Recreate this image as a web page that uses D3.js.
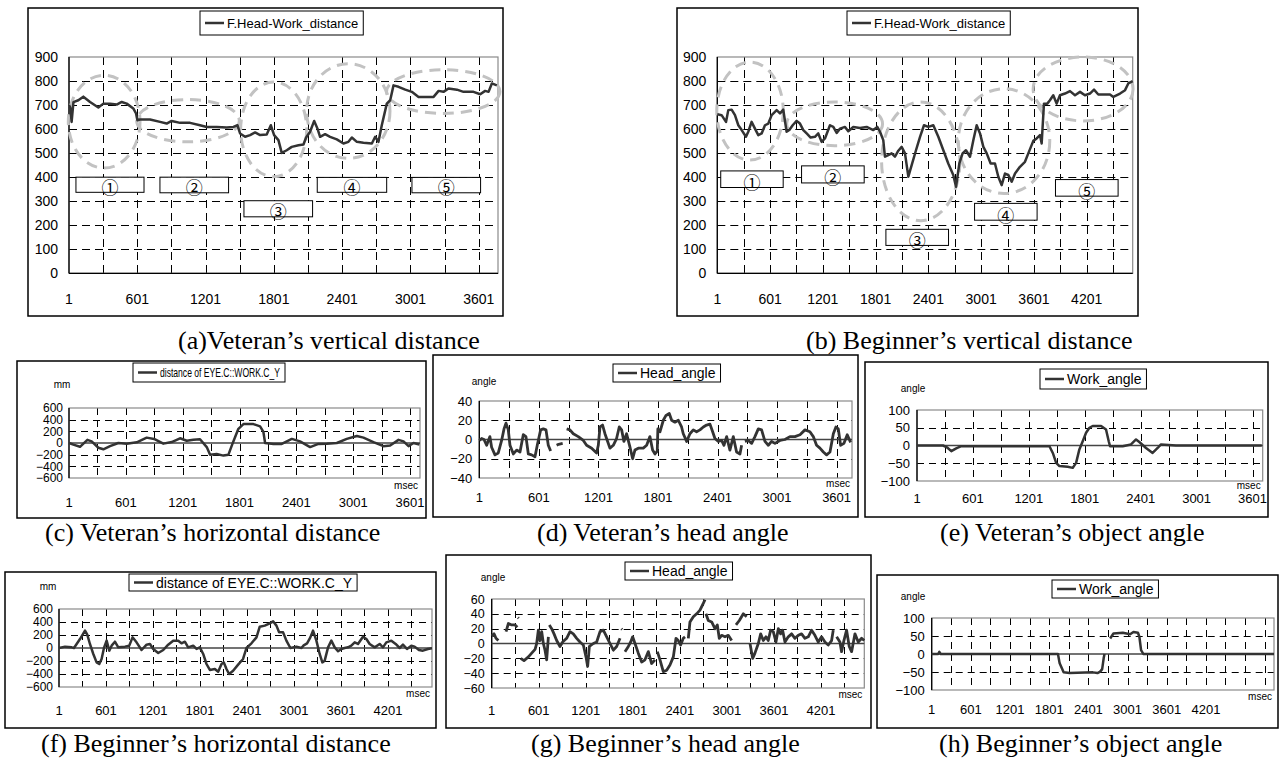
<!DOCTYPE html>
<html><head><meta charset="utf-8">
<script src="https://cdn.jsdelivr.net/npm/d3@7"></script>
<style>body{margin:0;background:#fff}svg{display:block}</style>
</head><body>
<svg id="c" width="1282" height="760"></svg>
<script>
// ---------- tick labels ----------
const xTicksVet = [1,601,1201,1801,2401,3001,3601];
const xTicksBeg = [1,601,1201,1801,2401,3001,3601,4201];
const yTicksVertical = [0,100,200,300,400,500,600,700,800,900];
const yTicksHoriz = [-600,-400,-200,0,200,400,600];
const yTicksHeadVet = [-40,-20,0,20,40];
const yTicksHeadBeg = [-60,-40,-20,0,20,40,60];
const yTicksWork = [-100,-50,0,50,100];

// ---------- series ([msec, value], null = gap) ----------
const vetVertical = [[1,700],[12,690],[24,630],[40,712],[83,720],[127,735],[186,713],[259,690],[303,706],[361,706],[420,702],[464,713],[508,706],[566,686],[590,665],[602,637],[625,640],[713,640],[801,630],[859,623],[903,634],[977,626],[1065,626],[1152,616],[1211,609],[1299,609],[1387,607],[1446,609],[1481,616],[1504,582],[1548,568],[1592,575],[1636,586],[1680,575],[1738,578],[1774,616],[1803,575],[1841,554],[1870,501],[1914,512],[1958,526],[2017,533],[2061,536],[2084,565],[2119,589],[2155,634],[2184,602],[2207,568],[2251,579],[2295,568],[2354,557],[2412,540],[2456,547],[2486,565],[2530,547],[2588,543],[2662,540],[2691,568],[2720,547],[2749,616],[2793,706],[2823,720],[2852,782],[2896,776],[2955,764],[3013,755],[3072,734],[3145,734],[3204,734],[3248,759],[3291,755],[3335,769],[3409,764],[3467,755],[3555,755],[3614,745],[3657,759],[3687,755],[3716,790],[3760,782]];

const begVertical = [[1,662],[50,658],[100,630],[126,679],[164,681],[202,658],[240,616],[278,596],[327,568],[353,589],[391,630],[429,602],[467,575],[505,582],[543,616],[581,623],[619,658],[676,679],[714,665],[751,681],[789,589],[820,596],[858,616],[903,634],[941,623],[979,596],[1017,582],[1062,565],[1111,568],[1149,582],[1187,547],[1225,561],[1282,616],[1320,609],[1358,584],[1396,602],[1453,609],[1490,591],[1547,609],[1623,605],[1699,609],[1775,596],[1820,609],[1851,589],[1888,554],[1907,485],[1945,492],[1983,499],[2021,485],[2059,510],[2097,526],[2135,499],[2173,402],[2211,450],[2260,512],[2306,568],[2351,616],[2400,609],[2457,616],[2514,568],[2571,512],[2627,457],[2684,409],[2715,360],[2753,457],[2790,499],[2828,512],[2874,485],[2912,554],[2950,616],[2988,582],[3026,526],[3064,499],[3109,457],[3158,457],[3196,402],[3234,367],[3272,415],[3310,409],[3348,381],[3386,415],[3442,443],[3499,464],[3537,499],[3594,551],[3632,561],[3670,575],[3689,540],[3715,706],[3753,706],[3783,720],[3821,741],[3859,706],[3897,741],[3954,748],[4011,758],[4068,741],[4125,755],[4181,741],[4238,748],[4284,764],[4333,744],[4409,744],[4466,744],[4504,734],[4580,748],[4637,762],[4674,790],[4724,800]];

const vetHorizontal = [[1,0],[47,-27],[117,-65],[195,54],[240,27],[311,-81],[364,-108],[434,-54],[522,0],[610,-11],[716,11],[821,92],[899,70],[997,-11],[1085,16],[1173,81],[1244,38],[1314,54],[1384,65],[1455,-70],[1490,-200],[1560,-189],[1631,-216],[1684,-200],[1736,27],[1789,243],[1842,324],[1948,324],[2018,286],[2053,189],[2071,0],[2159,-16],[2247,-16],[2353,70],[2440,27],[2546,-70],[2634,-16],[2722,-11],[2828,0],[2933,70],[3039,119],[3109,92],[3215,16],[3320,-54],[3391,-43],[3479,54],[3532,27],[3585,-54],[3637,0],[3700,-27]];

const vetHeadAngle = [[1,-1],[25,1],[48,0],[75,-6],[108,3],[125,-8],[159,-16],[192,-14],[226,-1],[250,11],[270,17],[293,10],[310,-6],[344,-15],[377,-11],[411,-13],[444,5],[471,3],[495,-15],[528,-16],[562,-18],[585,-6],[619,10],[646,11],[673,10],[696,-6],[720,-12],[740,null],[780,-6],[800,-5],[841,-4],[860,null],[881,11],[914,10],[948,6],[998,3],[1049,-1],[1082,-6],[1133,-9],[1183,-14],[1200,-6],[1217,13],[1243,15],[1267,6],[1294,-2],[1317,-9],[1351,-6],[1384,1],[1411,13],[1435,10],[1458,-2],[1485,6],[1519,-8],[1546,-20],[1569,-11],[1603,-9],[1653,-9],[1687,-6],[1720,3],[1747,-11],[1771,-15],[1794,-12],[1800,11],[1821,8],[1855,20],[1882,25],[1915,27],[1939,20],[1972,18],[2006,20],[2039,13],[2056,6],[2090,-2],[2123,6],[2157,10],[2190,8],[2224,10],[2258,13],[2291,15],[2325,16],[2352,8],[2375,1],[2409,-2],[2442,-1],[2466,-6],[2493,3],[2526,-11],[2560,3],[2593,-13],[2627,-15],[2644,-6],[2660,null],[2677,-2],[2711,-1],[2745,-4],[2778,3],[2812,11],[2845,10],[2879,-2],[2913,-6],[2946,-2],[2980,-4],[3030,-1],[3080,0],[3131,3],[3181,3],[3232,5],[3282,10],[3332,8],[3366,3],[3399,-6],[3433,-9],[3467,-13],[3500,-16],[3534,-13],[3568,6],[3594,13],[3618,11],[3641,-6],[3675,-4],[3708,5],[3742,-3]];

const vetWorkAngle = [[1,0],[280,0],[322,-5],[369,-16],[422,-8],[476,-2],[815,-2],[1422,-2],[1458,-21],[1494,-49],[1529,-58],[1618,-60],[1672,-63],[1708,-49],[1743,-11],[1779,12],[1815,36],[1851,50],[1886,55],[1976,55],[2029,45],[2058,12],[2072,-2],[2208,-2],[2297,3],[2351,17],[2386,10],[2458,-7],[2529,-21],[2583,-7],[2619,3],[2779,0],[3700,0]];

const begHorizontal = [[1,0],[78,21],[163,10],[192,0],[269,138],[333,267],[362,205],[396,62],[439,-92],[481,-221],[515,-246],[545,-169],[575,0],[609,113],[643,-41],[673,36],[715,97],[758,10],[843,21],[898,36],[940,164],[991,87],[1055,-31],[1119,51],[1162,62],[1204,-15],[1268,-77],[1332,-31],[1395,51],[1459,113],[1523,113],[1565,72],[1608,97],[1650,10],[1714,36],[1757,-15],[1799,10],[1842,-92],[1884,-246],[1927,-338],[1991,-323],[2033,-364],[2076,-246],[2105,-221],[2139,-323],[2173,-400],[2224,-349],[2288,-256],[2351,-169],[2394,0],[2458,72],[2522,164],[2564,328],[2628,344],[2692,379],[2734,410],[2777,344],[2811,241],[2862,241],[2904,113],[2955,0],[3032,21],[3096,0],[3125,41],[3168,72],[3210,164],[3244,267],[3287,113],[3329,-92],[3363,-221],[3393,-195],[3436,10],[3478,113],[3521,10],[3563,-51],[3606,-15],[3648,0],[3691,10],[3733,36],[3776,87],[3818,62],[3882,174],[3925,138],[3967,62],[4031,10],[4095,62],[4137,10],[4180,87],[4244,113],[4299,62],[4350,0],[4392,51],[4443,-15],[4499,36],[4541,21],[4596,-31],[4647,-41],[4711,-15],[4762,-5]];

const begHeadAngle = [[1,10],[31,13],[56,7],[86,4],[120,null],[184,16],[214,27],[256,25],[299,25],[328,22],[332,null],[336,35],[346,34],[355,null],[371,-20],[413,-23],[469,-18],[511,-13],[554,-8],[575,0],[596,18],[617,4],[639,16],[660,0],[681,-9],[702,-22],[724,9],[730,null],[736,25],[766,20],[796,13],[830,4],[872,-4],[906,2],[957,7],[1000,16],[1042,13],[1085,7],[1127,2],[1170,-2],[1204,-18],[1225,-31],[1247,-4],[1298,0],[1340,2],[1383,16],[1425,18],[1468,9],[1510,0],[1553,-9],[1595,-4],[1638,7],[1646,null],[1655,20],[1665,19],[1680,null],[1701,-11],[1744,-4],[1774,2],[1799,9],[1829,0],[1871,-13],[1914,-25],[1956,-22],[1999,-11],[2041,-27],[2084,-22],[2095,null],[2114,-11],[2148,-22],[2190,-38],[2233,-36],[2275,-29],[2318,-18],[2352,7],[2381,4],[2411,-2],[2445,7],[2467,9],[2480,null],[2509,7],[2530,29],[2573,36],[2615,40],[2658,45],[2700,54],[2722,59],[2728,null],[2734,40],[2764,31],[2807,29],[2849,20],[2879,25],[2904,7],[2934,11],[2977,9],[3019,11],[3062,4],[3080,null],[3117,25],[3160,31],[3211,40],[3253,36],[3270,null],[3296,0],[3330,-20],[3359,-13],[3402,0],[3432,13],[3466,4],[3500,9],[3529,4],[3559,18],[3593,16],[3627,2],[3657,20],[3687,13],[3712,18],[3742,2],[3784,9],[3827,13],[3869,7],[3912,11],[3954,13],[3997,7],[4039,9],[4082,18],[4124,11],[4167,2],[4209,9],[4252,2],[4294,-2],[4337,4],[4358,18],[4380,null],[4401,9],[4443,2],[4464,-11],[4494,4],[4528,18],[4562,-4],[4592,-11],[4635,13],[4677,2],[4720,7],[4754,4]];

const begWorkAngle = [[1,0],[100,0],[118,6],[140,0],[1935,0],[1961,-26],[2022,-51],[2113,-53],[2470,-51],[2540,-53],[2582,-49],[2612,-42],[2635,-12],[2648,0],[2660,null],[2734,43],[2785,57],[2928,59],[3040,55],[3091,61],[3160,59],[3182,48],[3208,11],[3243,0],[5244,0]];

// ---------- annotations (data units) ----------
const phaseLabels = ["①","②","③","④","⑤"];
// [x0, x1, yTop, yBottom]
const vetBoxes = [[62,660,400,337],[800,1403,400,335],[1538,2141,302,235],[2182,2792,399,337],[3014,3617,399,335]];
const begBoxes = [[40,750,426,357],[959,1671,447,376],[1918,2630,183,116],[2926,3637,291,221],[3846,4558,390,321]];
// [cx, cy, rx, ry]
const vetEllipses = [[310,631,315,193],[1046,635,451,88],[1799,599,290,197],[2455,675,366,197],[3289,756,498,91]];
const begEllipses = [[373,675,378,204],[1335,622,545,91],[2314,466,445,247],[3261,550,520,218],[4160,767,568,133]];

// ---------- titles ----------
const captions = ["(a)Veteran\u2019s vertical distance","(b) Beginner\u2019s vertical distance","(c) Veteran\u2019s horizontal distance","(d) Veteran\u2019s head angle","(e) Veteran\u2019s object angle","(f) Beginner\u2019s horizontal distance","(g) Beginner\u2019s head angle","(h) Beginner\u2019s object angle"];
const legendVertical = "F.Head-Work_distance";
const legendHoriz = "distance of EYE.C::WORK.C_Y";
const legendHead = "Head_angle";
const legendWork = "Work_angle";

// ---------- drawing ----------
const svg = d3.select("#c");
const SANS = "'Liberation Sans', Arial, sans-serif";
const SERIF = "'Liberation Serif', 'Times New Roman', serif";

function drawPanel(cfg) {
  const [fx0,fy0,fx1,fy1] = cfg.frame;
  const [px0,py0,px1,py1] = cfg.plot;
  const g = svg.append("g");
  g.append("rect").attr("x",fx0).attr("y",fy0).attr("width",fx1-fx0).attr("height",fy1-fy0)
    .attr("fill","#fff").attr("stroke","#000").attr("stroke-width",1.5);
  const x = d3.scaleLinear().domain([1,cfg.xMax]).range([px0,px1]);
  const yExt = d3.extent(cfg.yTicks);
  const y = d3.scaleLinear().domain(yExt).range([py1,py0]);

  // vertical dashed grid every 300
  g.append("g").selectAll("line").data(d3.range(301, cfg.xMax, 300)).join("line")
    .attr("x1",d=>Math.round(x(d))+0.5).attr("x2",d=>Math.round(x(d))+0.5)
    .attr("y1",py0).attr("y2",py1)
    .attr("stroke","#000").attr("stroke-width",1).attr("stroke-dasharray",cfg.dash);
  // horizontal dashed grid
  const hg = cfg.yTicks.filter(v => v!==yExt[0] && v!==yExt[1] && (cfg.big || v!==0));
  g.append("g").selectAll("line").data(hg).join("line")
    .attr("x1",px0).attr("x2",px1)
    .attr("y1",d=>Math.round(y(d))+0.5).attr("y2",d=>Math.round(y(d))+0.5)
    .attr("stroke","#000").attr("stroke-width",1).attr("stroke-dasharray",cfg.dash);
  // plot border
  g.append("rect").attr("x",px0).attr("y",py0).attr("width",px1-px0).attr("height",py1-py0)
    .attr("fill","none").attr("stroke","#8a8a8a").attr("stroke-width",1.2);
  // axes
  g.append("line").attr("x1",px0).attr("x2",px0).attr("y1",py0).attr("y2",py1).attr("stroke","#000").attr("stroke-width",1.3);
  const axisY = cfg.big ? y(yExt[0]) : y(0);
  g.append("line").attr("x1",px0).attr("x2",px1).attr("y1",axisY).attr("y2",axisY)
    .attr("stroke", cfg.big ? "#000" : "#444").attr("stroke-width",1.3);

  // annotations: ellipses
  if (cfg.ellipses) {
    g.append("g").selectAll("ellipse").data(cfg.ellipses).join("ellipse")
      .attr("cx",d=>x(d[0])).attr("cy",d=>y(d[1]))
      .attr("rx",d=>x(d[0]+d[2])-x(d[0])).attr("ry",d=>y(d[1]-d[3])-y(d[1]))
      .attr("fill","none").attr("stroke","#c2c2c2").attr("stroke-width",3).attr("stroke-dasharray","11,7");
  }

  // series
  const line = d3.line().defined(d=>d[1]!==null).x(d=>x(d[0])).y(d=>y(d[1]));
  g.append("path").datum(cfg.series).attr("d",line).attr("fill","none")
    .attr("stroke","#333").attr("stroke-width",cfg.lw).attr("stroke-linejoin","round");

  // boxes
  if (cfg.boxes) {
    const bg = g.append("g").selectAll("g").data(cfg.boxes).join("g");
    bg.append("rect").attr("x",d=>x(d[0])).attr("y",d=>y(d[2]))
      .attr("width",d=>x(d[1])-x(d[0])).attr("height",d=>y(d[3])-y(d[2]))
      .attr("fill","#fff").attr("stroke","#000").attr("stroke-width",1);
    bg.append("text").attr("x",d=>(x(d[0])+x(d[1]))/2).attr("y",d=>y(d[3])-6)
      .attr("text-anchor","middle").attr("dominant-baseline","central")
      .attr("font-family","'Noto Sans CJK JP', 'DejaVu Sans', sans-serif").attr("font-size",17)
      .text((d,i)=>phaseLabels[i]);
  }

  // tick labels
  g.append("g").selectAll("text").data(cfg.yTicks).join("text")
    .attr("x",px0-cfg.ylGap).attr("y",d=>y(d)).attr("dy","0.36em").attr("text-anchor","end")
    .attr("font-family",SANS).attr("font-size",cfg.yfs)
    .text(d => d<0 ? "\u2212"+Math.abs(d) : d);
  g.append("g").selectAll("text").data(cfg.xTicks).join("text")
    .attr("x",d=>x(d)).attr("y",cfg.xlY).attr("text-anchor","middle")
    .attr("font-family",SANS).attr("font-size",cfg.fs).text(d=>d);

  if (cfg.unit) {
    g.append("text").attr("x",cfg.unit[1]).attr("y",cfg.unit[2]).attr("text-anchor","middle")
      .attr("font-family",SANS).attr("font-size",10).text(cfg.unit[0]);
    g.append("text").attr("x",px1-2).attr("y",cfg.msecY).attr("text-anchor","end")
      .attr("font-family",SANS).attr("font-size",10).text("msec");
  }

  // legend
  const [lx,ly,lh,lfs,lw] = cfg.legendPos;
  const lg = g.append("g");
  const r = lg.append("rect").attr("x",lx).attr("y",ly).attr("height",lh).attr("fill","#fff").attr("stroke","#000").attr("stroke-width",1);
  lg.append("line").attr("x1",lx+5).attr("x2",lx+24).attr("y1",ly+lh/2).attr("y2",ly+lh/2).attr("stroke","#333").attr("stroke-width",2.5);
  const t = lg.append("text").attr("x",lx+27).attr("y",ly+lh/2).attr("dy","0.36em")
    .attr("font-family",SANS).attr("font-size",lfs).text(cfg.legend);
  if (lw) t.attr("textLength", lw).attr("lengthAdjust","spacingAndGlyphs");
  r.attr("width", 27 + (lw || t.node().getComputedTextLength()) + 5);

  // caption
  svg.append("text").attr("x",cfg.cap[1]).attr("y",cfg.cap[2]).attr("font-family",SERIF)
    .attr("font-size",26).text(cfg.cap[0]);
}

const panels = [
  {frame:[28,8,503,316], plot:[69,57,498,273.3], xMax:3770, yTicks:yTicksVertical, xTicks:xTicksVet, series:vetVertical,
   big:true, dash:"8,5", lw:2.5, fs:14, yfs:14, ylGap:11, xlY:304, ellipses:vetEllipses, boxes:vetBoxes,
   legend:legendVertical, legendPos:[200,11,24,13], cap:[captions[0],178,349]},
  {frame:[677,8,1138,316], plot:[717.3,57,1132.7,273.3], xMax:4724, yTicks:yTicksVertical, xTicks:xTicksBeg, series:begVertical,
   big:true, dash:"8,5", lw:2.5, fs:14, yfs:14, ylGap:11, xlY:304, ellipses:begEllipses, boxes:begBoxes,
   legend:legendVertical, legendPos:[847,11,24,13], cap:[captions[1],806,349]},
  {frame:[17,361,426,518], plot:[69,408,420,478], xMax:3706, yTicks:yTicksHoriz, xTicks:xTicksVet, series:vetHorizontal,
   big:false, dash:"7,5", lw:2.5, fs:13, yfs:12, ylGap:6, xlY:507, unit:["mm",62,388], msecY:489,
   legend:legendHoriz, legendPos:[133,363,19,13,120], cap:[captions[2],45,541]},
  {frame:[433,355,858,517], plot:[479.3,401,852,478], xMax:3756, yTicks:yTicksHeadVet, xTicks:xTicksVet, series:vetHeadAngle,
   big:false, dash:"7,5", lw:2.8, fs:13, yfs:13, ylGap:7, xlY:502, unit:["angle",484,385], msecY:487,
   legend:legendHead, legendPos:[613,364,18,14], cap:[captions[3],537,541]},
  {frame:[865,362,1268,517], plot:[917,410,1262.7,481], xMax:3710, yTicks:yTicksWork, xTicks:xTicksVet, series:vetWorkAngle,
   big:false, dash:"7,5", lw:2.5, fs:13, yfs:13, ylGap:7, xlY:503, unit:["angle",913,392], msecY:489,
   legend:legendWork, legendPos:[1040,369,20,14], cap:[captions[4],940,541]},
  {frame:[5,572,436,728], plot:[59,609,432,687], xMax:4763, yTicks:yTicksHoriz, xTicks:xTicksBeg, series:begHorizontal,
   big:false, dash:"7,5", lw:2.5, fs:13, yfs:12, ylGap:6, xlY:715, unit:["mm",48,590], msecY:697,
   legend:legendHoriz, legendPos:[129,574,17,14], cap:[captions[5],41,752]},
  {frame:[446,555,871,728], plot:[491.7,599,864.3,688], xMax:4754, yTicks:yTicksHeadBeg, xTicks:xTicksBeg, series:begHeadAngle,
   big:false, dash:"7,5", lw:2.8, fs:13, yfs:12.5, ylGap:7, xlY:715, unit:["angle",493,581], msecY:698,
   legend:legendHead, legendPos:[625,562,18,14], cap:[captions[6],531,752]},
  {frame:[877,575,1278,728], plot:[931.7,618,1274,690], xMax:5244, yTicks:yTicksWork, xTicks:xTicksBeg, series:begWorkAngle,
   big:false, dash:"7,5", lw:2.5, fs:13, yfs:13, ylGap:7, xlY:714, unit:["angle",913,600], msecY:700,
   legend:legendWork, legendPos:[1052,580,18,14], cap:[captions[7],939,752]}
];
panels.forEach(drawPanel);
</script>
</body></html>
